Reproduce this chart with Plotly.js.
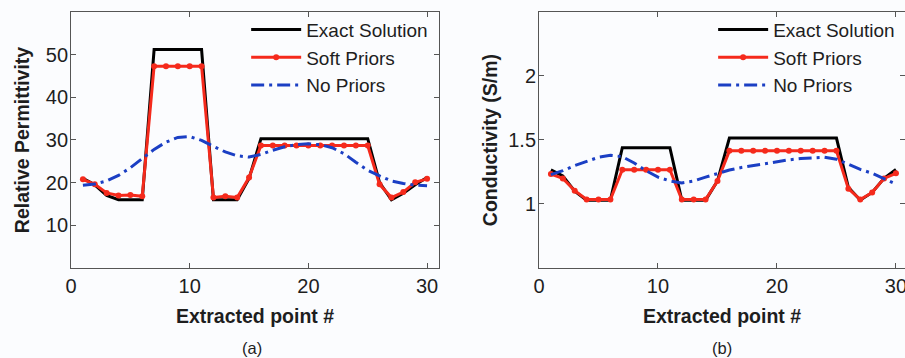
<!DOCTYPE html>
<html>
<head>
<meta charset="utf-8">
<script src="https://cdn.plot.ly/plotly-3.0.1.min.js"></script>
<style>html,body{margin:0;padding:0;background:#fbfcfe;}#chart{width:905px;height:358px;}</style>
</head>
<body>
<div id="chart"></div>
<script>
// Extracted point index
const pointIdx = [1,2,3,4,5,6,7,8,9,10,11,12,13,14,15,16,17,18,19,20,21,22,23,24,25,26,27,28,29,30];
const xTicks = [0,10,20,30];

// (a) Relative permittivity
const permExact = [21.0,19.5,17.0,16.0,16.0,16.0,51.2,51.2,51.2,51.2,51.2,16.0,16.0,16.0,21.0,30.3,30.3,30.3,30.3,30.3,30.3,30.3,30.3,30.3,30.3,20.0,16.0,17.5,19.5,21.2];
const permSoft  = [20.8,19.6,17.6,17.0,17.1,16.8,47.3,47.3,47.3,47.3,47.3,16.5,16.8,16.5,21.2,28.7,28.7,28.7,28.7,28.7,28.7,28.7,28.7,28.7,28.7,19.6,16.5,17.8,20.1,20.9];
const permNone  = [19.4,19.7,20.4,21.7,23.5,25.7,27.8,29.5,30.6,30.8,29.9,28.5,27.2,26.3,26.0,26.6,27.6,28.4,28.9,29.1,28.9,28.2,26.8,24.8,22.9,21.6,20.4,19.8,19.4,19.3];
const permTicks = [10,20,30,40,50];

// (b) Conductivity (S/m)
const condExact = [1.266,1.22,1.10,1.03,1.03,1.03,1.44,1.44,1.44,1.44,1.44,1.03,1.03,1.03,1.18,1.515,1.515,1.515,1.515,1.515,1.515,1.515,1.515,1.515,1.515,1.13,1.03,1.09,1.20,1.27];
const condSoft  = [1.234,1.20,1.104,1.035,1.035,1.035,1.268,1.268,1.268,1.268,1.268,1.035,1.035,1.035,1.18,1.415,1.415,1.415,1.415,1.415,1.415,1.415,1.415,1.415,1.415,1.12,1.035,1.09,1.20,1.24];
const condNone  = [1.23,1.26,1.30,1.335,1.365,1.38,1.37,1.32,1.26,1.21,1.18,1.165,1.18,1.21,1.24,1.265,1.285,1.30,1.32,1.335,1.345,1.355,1.36,1.365,1.35,1.31,1.27,1.24,1.20,1.155];
const condTicks = [1,1.5,2];

const seriesNames = ['Exact Solution','Soft Priors','No Priors'];

const FONT = 'Liberation Sans, Arial, Helvetica, sans-serif';
const BLACK = '#000000', RED = '#f52a1c', BLUE = '#1b3fc4';
const TXT = '#1e1e1e';

function traces(xa, ya, leg, ex, soft, none) {
  return [
    {x: pointIdx, y: ex, xaxis: xa, yaxis: ya, legend: leg, name: seriesNames[0], mode: 'lines',
     line: {color: BLACK, width: 3}},
    {x: pointIdx, y: soft, xaxis: xa, yaxis: ya, legend: leg, name: seriesNames[1], mode: 'lines+markers',
     line: {color: RED, width: 3}, marker: {color: RED, size: 6}},
    {x: pointIdx, y: none, xaxis: xa, yaxis: ya, legend: leg, name: seriesNames[2], mode: 'lines',
     line: {color: BLUE, width: 3, dash: '13px,5px,3px,5px'}}
  ];
}

const data = [].concat(
  traces('x', 'y', 'legend', permExact, permSoft, permNone),
  traces('x2', 'y2', 'legend2', condExact, condSoft, condNone)
);

const axBase = {
  showgrid: false, zeroline: false, showline: true, linecolor: '#555', linewidth: 1,
  ticks: 'inside', ticklen: 5, tickcolor: '#555', mirror: 'ticks',
  tickfont: {family: FONT, size: 20, color: TXT}, ticklabeloverflow: 'allow'
};
const titleFont = {family: FONT, size: 19.5, color: TXT};

const layout = {
  width: 905, height: 358,
  margin: {l: 0, r: 0, t: 0, b: 0},
  paper_bgcolor: '#fbfcfe', plot_bgcolor: '#fbfcfe',
  font: {family: FONT, color: TXT},
  showlegend: true,
  xaxis: Object.assign({}, axBase, {domain: [0.0785, 0.485], range: [0, 31], tickvals: xTicks,
    title: {text: '<b>Extracted point #</b>', font: titleFont, standoff: 13}, anchor: 'y'}),
  yaxis: Object.assign({}, axBase, {domain: [0.2514, 0.9665], range: [0, 60], tickvals: permTicks, ticklabelstandoff: -2,
    title: {text: '<b>Relative Permittivity</b>', font: titleFont, standoff: 10}, anchor: 'x'}),
  xaxis2: Object.assign({}, axBase, {domain: [0.5956, 1.0], range: [0, 30.76], tickvals: xTicks,
    title: {text: '<b>Extracted point #</b>', font: titleFont, standoff: 13}, anchor: 'y2'}),
  yaxis2: Object.assign({}, axBase, {domain: [0.2514, 0.9665], range: [0.5, 2.5], tickvals: condTicks, ticklabelstandoff: -2,
    title: {text: '<b>Conductivity (S/m)</b>', font: titleFont, standoff: 5}, anchor: 'x2'}),
  legend: {x: 0.272, y: 0.97, xanchor: 'left', yanchor: 'top', bgcolor: 'rgba(0,0,0,0)',
    font: {family: FONT, size: 19, color: TXT}, itemwidth: 50, tracegroupgap: 0},
  legend2: {x: 0.788, y: 0.97, xanchor: 'left', yanchor: 'top', bgcolor: 'rgba(0,0,0,0)',
    font: {family: FONT, size: 19, color: TXT}, itemwidth: 50, tracegroupgap: 0},
  annotations: [
    {text: '(a)', xref: 'paper', yref: 'paper', x: 0.279, y: 0.028, xanchor: 'center', yanchor: 'middle', showarrow: false,
     font: {family: FONT, size: 16.5, color: TXT}},
    {text: '(b)', xref: 'paper', yref: 'paper', x: 0.7975, y: 0.028, xanchor: 'center', yanchor: 'middle', showarrow: false,
     font: {family: FONT, size: 16.5, color: TXT}}
  ]
};

Plotly.newPlot('chart', data, layout, {displayModeBar: false, staticPlot: true});
</script>
</body>
</html>
